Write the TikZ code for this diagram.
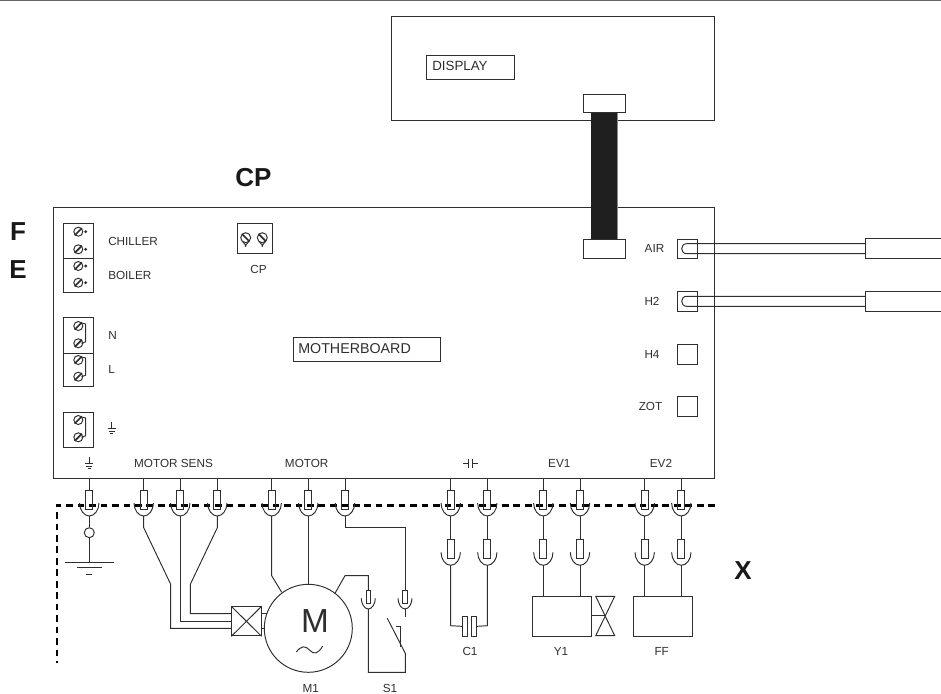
\documentclass[tikz,border=0pt]{standalone}
\usepackage{fontspec}
\setmainfont{Liberation Sans}
\usetikzlibrary{calc}
\definecolor{ink}{gray}{0.18}
\tikzset{
  ln/.style={draw=ink,line width=0.72pt},
  box/.style={ln,rectangle,inner sep=0pt,anchor=north west},
  txt/.style={inner sep=0pt,text=ink,font=\fontsize{8.8}{10}\selectfont},
  bigt/.style={inner sep=0pt,text=black!90,font=\fontsize{19.5}{22}\selectfont\bfseries},
  pinbox/.style={ln,rectangle,inner sep=0pt,minimum width=5pt,minimum height=14pt},
  pinsmall/.style={ln,rectangle,inner sep=0pt,minimum width=3.4pt,minimum height=10.3pt},
}
% pin with cup: name, x, top y
\newcommand\pinU[3]{%
  \node[pinbox] (#1) at (#2,#3+9.3) {};
  \draw[ln] (#2-9.7,#3+12.3) .. controls (#2-9.7,#3+19.2) and (#2-5.3,#3+25.3) .. (#2,#3+25.3)
     .. controls (#2+5.3,#3+25.3) and (#2+9.7,#3+19.2) .. (#2+9.7,#3+12.3);
  \coordinate (#1-b) at (#2,#3+25.3);
}
\newcommand\pinS[3]{%
  \node[pinsmall] (#1) at (#2,#3+6.8) {};
  \draw[ln] (#2-7,#3+8) .. controls (#2-7,#3+13) and (#2-4,#3+18.7) .. (#2,#3+18.7)
     .. controls (#2+4,#3+18.7) and (#2+7,#3+13) .. (#2+7,#3+8);
  \coordinate (#1-b) at (#2,#3+18.7);
}
\newcommand\screw[2]{%
  \draw[ln] (#1,#2) circle[radius=4.5];
  \draw[draw=ink,line width=1.25pt] (#1-3.6,#2+3.6) -- (#1+3.6,#2-3.6);
}
\newcommand\screwB[2]{%
  \draw[ln] (#1,#2) circle[radius=5];
  \draw[draw=ink,line width=1.25pt] (#1-3.6,#2-3.6) -- (#1+3.6,#2+3.6);
  \fill[ink] (#1,#2+8.3) circle[radius=1];
  \draw[ln] (#1-3,#2+4) -- (#1,#2+7.5) -- (#1+3,#2+4);
}
\newcommand\earthmark[2]{%
  \draw[ln] (#1,#2-6) -- (#1,#2);
  \draw[ln] (#1-4,#2) -- (#1+4,#2);
  \draw[ln] (#1-3,#2+3) -- (#1+3,#2+3);
  \draw[ln] (#1-1.6,#2+5.6) -- (#1+1.6,#2+5.6);
}
\begin{document}
\begin{tikzpicture}[x=0.75pt,y=-0.75pt]
\useasboundingbox (0,0) rectangle (941,693);
\draw[draw=black!60,line width=1pt] (0,0.6) -- (941,0.6);

% Display and motherboard
\node[box,minimum width=242.3pt,minimum height=78pt] (display) at (391,16) {};
\node[box,minimum width=66pt,minimum height=17.8pt,draw=ink] (displaylabel) at (425.5,55) {};
\node[txt,anchor=west,font=\fontsize{10}{12}\selectfont] (displaytext) at (432,66) {DISPLAY};
\node[box,minimum width=496.3pt,minimum height=203.3pt] (board) at (52.7,207) {};
\node[box,minimum width=110.5pt,minimum height=18pt,draw=ink] (mblabel) at (293,337) {};
\node[txt,anchor=west,font=\fontsize{10.7}{12}\selectfont] (mbtext) at (298,349) {MOTHERBOARD};

% Ribbon
\fill[fill=black!88] (590.7,111) rectangle (616.7,239);
\draw[draw=black!45,line width=0.5pt] (617,111) -- (617,239);
\node[box,fill=white,minimum width=31pt,minimum height=13.3pt] (conntop) at (583.3,94) {};
\node[box,fill=white,minimum width=31pt,minimum height=14.7pt] (connbot) at (583.3,238.7) {};

% Sensor sockets
\node[box,minimum width=15pt,minimum height=14.7pt] (air) at (677.3,238.7) {};
\node[box,minimum width=15pt,minimum height=14.7pt] (htwo) at (677.3,291.3) {};
\node[box,minimum width=15pt,minimum height=15pt] (hfour) at (677.3,343.7) {};
\node[box,minimum width=15pt,minimum height=15pt] (zot) at (677.3,396.3) {};
\draw[ln] (865,243.7) -- (686.7,243.7) .. controls (683.5,243.7) and (681.7,246) .. (681.7,248.7)
   .. controls (681.7,251.4) and (683.5,253.7) .. (686.7,253.7) -- (865,253.7);
\draw[ln] (865,296.3) -- (686.7,296.3) .. controls (683.5,296.3) and (681.7,298.6) .. (681.7,301.3)
   .. controls (681.7,304) and (683.5,306.3) .. (686.7,306.3) -- (865,306.3);
\draw[ln] (941,238.7) -- (865,238.7) -- (865,258.3) -- (941,258.3);
\draw[ln] (941,291.3) -- (865,291.3) -- (865,311) -- (941,311);

% Terminal blocks
\node[box,minimum width=22.5pt,minimum height=25.8pt] (chiller) at (62.7,223.3) {};
\node[box,minimum width=22.5pt,minimum height=25.8pt] (boiler) at (62.7,257.7) {};
\node[box,minimum width=22.5pt,minimum height=26.5pt] (nblock) at (62.7,317.3) {};
\node[box,minimum width=22.5pt,minimum height=25.2pt] (lblock) at (62.7,352.7) {};
\node[box,minimum width=22.5pt,minimum height=26.2pt] (eblock) at (62.7,411.7) {};
\node[box,minimum width=26pt,minimum height=22pt] (cpblock) at (237,223.3) {};
\foreach \y in {231.7,249.3,266,282.7}{
  \screw{78.3}{\y}
  \draw[ln] (85.7,\y) circle[radius=0.9];
}
\foreach \a/\b in {326/343.3,360/376.7,420/437.3}{
  \screw{78.3}{\a}
  \screw{78.3}{\b}
  \draw[ln] (81.5,\a-3) -- (85.7,\a-2) -- (85.7,\b-1.5) -- (81.5,\b);
}
\screwB{245.7}{237.7}
\screwB{262.3}{237.7}

% Board labels
\node[txt,anchor=west] (lchiller) at (108,241.7) {CHILLER};
\node[txt,anchor=west] (lboiler) at (108,275.5) {BOILER};
\node[txt,anchor=west] (ln) at (108,335) {N};
\node[txt,anchor=west] (ll) at (108,369) {L};
\node[txt] (lcp) at (258.5,269) {CP};
\earthmark{111.7}{428}
\node[txt] (lair) at (654.5,248.7) {AIR};
\node[txt] (lhtwo) at (652,301.5) {H2};
\node[txt] (lhfour) at (652,354) {H4};
\node[txt] (lzot) at (650.5,406.5) {ZOT};
\earthmark{89.3}{463}
\node[txt] (lsens) at (173.5,463.3) {MOTOR SENS};
\node[txt] (lmotor) at (306.7,463.3) {MOTOR};
\node[txt] (lev1) at (559.3,463.3) {EV1};
\node[txt] (lev2) at (661,463.3) {EV2};
\draw[ln] (463,463.3) -- (468.3,463.3) (468.3,459) -- (468.3,467.5) (472.2,459) -- (472.2,467.5) (472.2,463.3) -- (477.5,463.3);

% Big labels
\node[bigt] (bigcp) at (253.5,178) {CP};
\node[bigt] (bigf) at (18,232) {F};
\node[bigt] (bige) at (18,270) {E};
\node[bigt] (bigx) at (743,571) {X};

% Harness boundary
\draw[draw=black,line width=1.8pt,dash pattern=on 5pt off 3.6pt] (715,505.3) -- (56.7,505.3) -- (56.7,663);

% Board pins
\foreach \n/\x in {pa/89.3,pb/143.7,pc/180.3,pd/217.3,pe/271.7,pf/308.3,pg/345,ph/450.7,pi/487.3,pj/543.3,pk/580,pl/644.7,pm/681.3}{
  \pinU{\n}{\x}{490.7}
  \draw[ln] (\n.north) -- (\n.north |- board.south);
}
% Second row
\foreach \n/\x in {qh/450.7,qi/487.3,qj/543.3,qk/580,ql/644.7,qm/681.3}{
  \pinU{\n}{\x}{540}
}
\foreach \a/\b in {ph/qh,pi/qi,pj/qj,pk/qk,pl/ql,pm/qm}{
  \draw[ln] (\a-b) -- (\b.north);
}

% Earth
\node[ln,circle,inner sep=0pt,minimum size=7.5pt] (earthc) at (89.3,532.7) {};
\coordinate (gnd) at (89.3,562);
\draw[ln] (pa-b) -- (earthc) (earthc) -- (gnd);
\draw[ln] (65,562) -- (113.7,562) (76.7,567.7) -- (101.7,567.7) (86,574) -- (92.3,574);

% Motor
\node[ln,circle,inner sep=0pt,minimum size=66pt] (motor) at (308.3,628.3) {};
\node[box,minimum width=22pt,minimum height=21.8pt] (sens) at (231.3,606.3) {};
\draw[ln] (sens.north west) -- (sens.south east) (sens.north east) -- (sens.south west);
\node[inner sep=0pt,text=ink,font=\fontsize{25}{28}\selectfont] (mlet) at (315,620.7) {M};
\draw[ln] (296.3,652) .. controls (301,646) and (305,645) .. (309.5,650) .. controls (314,655) and (318,654) .. (322.7,646);
\draw[ln] (pb-b) -- (143.7,527.7) -- (170.7,584.3) -- (170.7,628.3) -- (sens.west |- 0,628.3);
\draw[ln] (pc-b) -- (180.3,621.3) -- (sens.west |- 0,621.3);
\draw[ln] (pd-b) -- (217.3,527.7) -- (190.3,584.3) -- (190.3,613.7) -- (sens.west |- 0,613.7);
\draw[ln] (sens.east |- 0,613.7) -- (266.5,613.7) (sens.east |- 0,628.3) -- (motor.west);
\draw[ln] (pe-b) -- (271.7,575.7) -- (281.7,592.3);
\draw[ln] (pf-b) -- (motor.north);

% Thermal switch
\pinS{sa}{368.3}{590.3}
\pinS{sb}{405}{590.3}
\draw[ln] (335,593.3) -- (345,575.7) -- (368.3,575.7) -- (sa.north);
\draw[ln] (pg-b) -- (345,527.7) -- (405,527.7) -- (sb.north);
\draw[ln] (sb-b) -- (405,617.3);
\draw[ln] (sa-b) -- (368.3,672.3) -- (405.3,672.3) -- (405.3,653.3) -- (387.3,618.3);
\draw[ln] (395.7,626.7) -- (400.7,626.7) -- (400.7,646.7);

% Capacitor
\node[box,minimum width=4pt,minimum height=15.2pt] (capa) at (462,615.7) {};
\node[box,minimum width=4pt,minimum height=15.2pt] (capb) at (470.7,615.7) {};
\draw[ln] (qh-b) -- (450.7,625.7) -- (capa.west);
\draw[ln] (qi-b) -- (487.3,625.7) -- (capb.east);

% Y1 and FF
\node[box,minimum width=44.3pt,minimum height=29.5pt] (yone) at (532.3,596.3) {};
\node[box,minimum width=44.3pt,minimum height=29.5pt] (ff) at (633.3,596.3) {};
\draw[ln] (qj-b) -- (qj-b |- yone.north);
\draw[ln] (qk-b) -- (qk-b |- yone.north);
\draw[ln] (ql-b) -- (ql-b |- ff.north);
\draw[ln] (qm-b) -- (qm-b |- ff.north);
\coordinate (valve) at (605,615.7);
\draw[ln] (595.7,596.3) -- (614.7,596.3) -- (595.7,635.7) -- (614.7,635.7) -- cycle;
\draw[ln] (591.3,615.7) -- (valve);

% Part labels
\node[txt] (lmone) at (310.7,688) {M1};
\node[txt] (lsone) at (390,688) {S1};
\node[txt] (lcone) at (470,651.7) {C1};
\node[txt] (lyone) at (561,651.7) {Y1};
\node[txt] (lff) at (661.7,651.7) {FF};
\end{tikzpicture}
\end{document}
